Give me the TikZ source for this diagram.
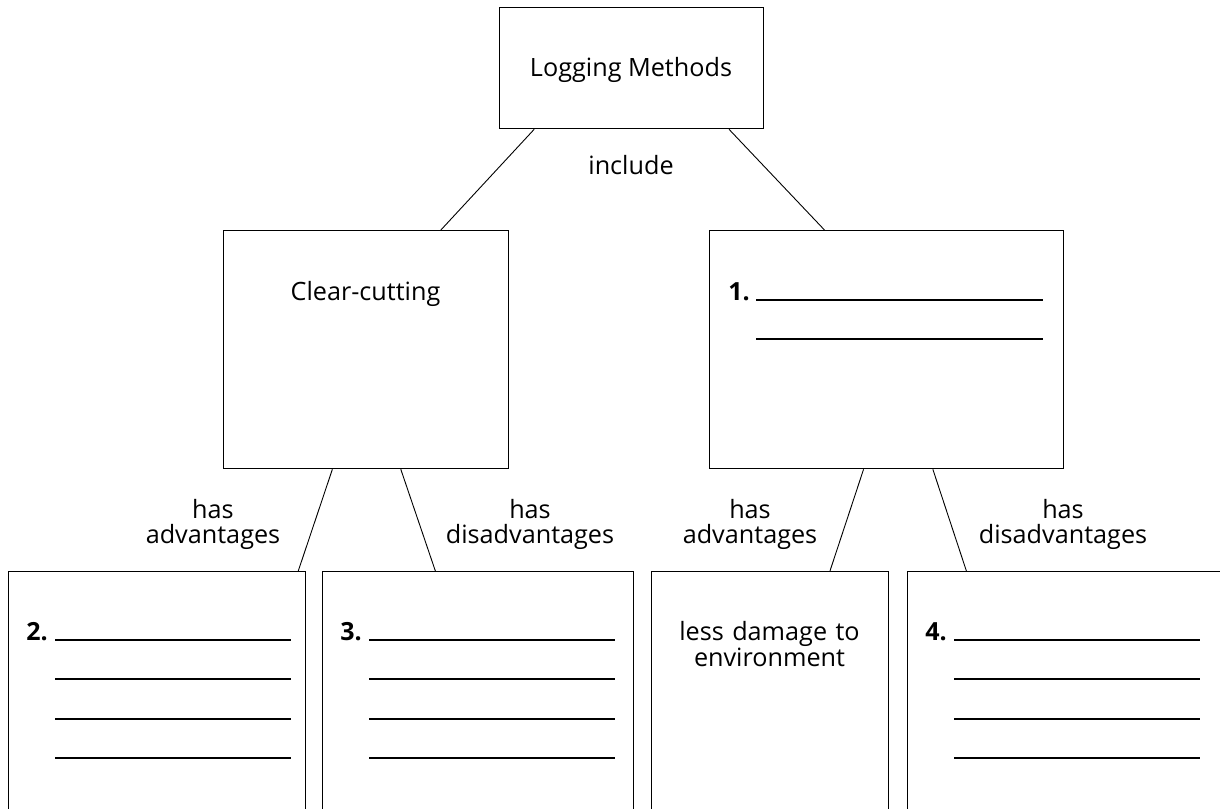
\documentclass[tikz,border=0pt]{standalone}
\usepackage{fontspec}
\setmainfont{Open Sans}
\usetikzlibrary{calc}
\begin{document}
\begin{tikzpicture}[x=1pt,y=-1pt,
  box/.style={draw, line width=1.3pt, rectangle, inner sep=0pt, anchor=north west},
  conn/.style={line width=0.9pt},
  blank/.style={line width=1.4pt},
  txt/.style={font=\fontsize{25.2}{25.5}\selectfont, inner sep=0pt, anchor=base, align=center},
  num/.style={font=\fontsize{25}{25.5}\selectfont\bfseries, inner sep=0pt, anchor=base east}]
\useasboundingbox (0,0) rectangle (1220,808);
\clip (0,0) rectangle (1220,808);
\fill[white] (0,0) rectangle (1220,808);

% boxes
\node[box, minimum width=264pt, minimum height=121pt] (top) at (499,7) {};
\node[box, minimum width=285pt, minimum height=238pt] (cc) at (223,230) {};
\node[box, minimum width=354pt, minimum height=238pt] (m1) at (709,230) {};
\node[box, minimum width=297pt, minimum height=260pt] (b2) at (8,571) {};
\node[box, minimum width=311pt, minimum height=260pt] (b3) at (322,571) {};
\node[box, minimum width=237pt, minimum height=260pt] (b5) at (651,571) {};
\node[box, minimum width=318pt, minimum height=260pt] (b4) at (907,571) {};

% connectors
\draw[conn] ($(top.south west)!0.1326!(top.south east)$) -- ($(cc.north west)!0.761!(cc.north east)$);
\draw[conn] ($(top.south west)!0.867!(top.south east)$) -- ($(m1.north west)!0.325!(m1.north east)$);
\draw[conn] ($(cc.south west)!0.382!(cc.south east)$) -- ($(b2.north west)!0.973!(b2.north east)$);
\draw[conn] ($(cc.south west)!0.621!(cc.south east)$) -- ($(b3.north west)!0.363!(b3.north east)$);
\draw[conn] ($(m1.south west)!0.435!(m1.south east)$) -- ($(b5.north west)!0.751!(b5.north east)$);
\draw[conn] ($(m1.south west)!0.630!(m1.south east)$) -- ($(b4.north west)!0.186!(b4.north east)$);

% texts
\node[txt] (tlog) at (631,77) {Logging Methods};
\node[txt] (tinc) at (631,174) {include};
\node[txt] (tcc) at (365.5,300) {Clear-cutting};
\node[txt, text width=200pt] (ha1) at (213,518) {has\\advantages};
\node[txt, text width=220pt] (hd1) at (530,518) {has\\disadvantages};
\node[txt, text width=200pt] (ha2) at (750,518) {has\\advantages};
\node[txt, text width=220pt] (hd2) at (1063,518) {has\\disadvantages};
\node[txt, text width=230pt, font=\fontsize{25.2}{26.5}\selectfont] (tld) at (769.5,640) {less damage to\\environment};

% numbered blanks
\node[num] (n1) at (750,300) {1.};
\foreach \y in {300,339} \draw[blank] (756,\y) -- (1043,\y);
\node[num] (n2) at (48,640) {2.};
\foreach \y in {640,679,719,758} \draw[blank] (55,\y) -- (291,\y);
\node[num] (n3) at (362,640) {3.};
\foreach \y in {640,679,719,758} \draw[blank] (369,\y) -- (615,\y);
\node[num] (n4) at (947,640) {4.};
\foreach \y in {640,679,719,758} \draw[blank] (954,\y) -- (1200,\y);
\end{tikzpicture}
\end{document}
